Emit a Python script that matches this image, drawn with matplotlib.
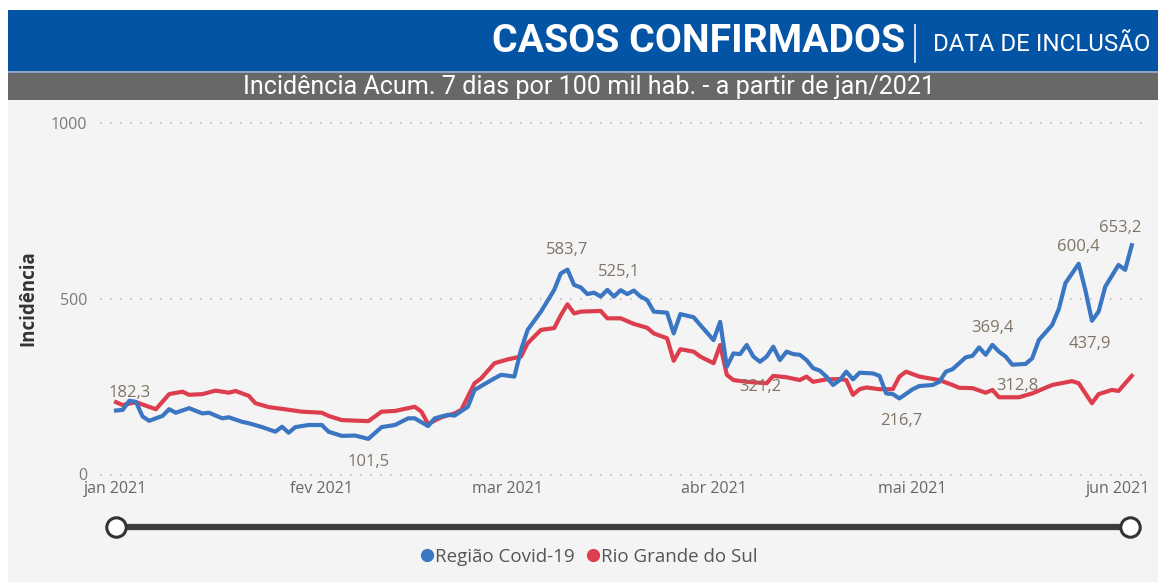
import numpy as np
import matplotlib
matplotlib.use("Agg")
import matplotlib.pyplot as plt
from matplotlib.patches import Rectangle
from matplotlib.lines import Line2D

# ---------------- data ----------------
start_date = "2021-01-01"
blue_days = [0, 1, 2, 3, 4, 5, 7, 8, 9, 11, 13, 14, 16, 17, 19, 20, 22, 24, 25, 26, 27, 29, 31, 32,
             34, 36, 38, 40, 42, 44, 45, 47, 48, 50, 51, 53, 54, 57, 58, 60, 61, 62, 64, 66, 67, 68,
             69, 70, 71, 72, 73, 74, 75, 76, 77, 78, 79, 80, 81, 83, 84, 85, 87, 88, 90, 91, 92, 93,
             94, 95, 96, 97, 98, 99, 100, 101, 102, 103, 104, 105, 106, 107, 108, 109, 110, 111, 112,
             114, 115, 116, 117, 118, 120, 121, 123, 124, 125, 126, 128, 129, 130, 131, 132, 133, 134,
             135, 137, 138, 139, 141, 142, 143, 145, 146, 147, 148, 149, 151, 152, 153]
blue_vals = [182.3, 184, 210, 207, 165, 153, 167, 186, 176, 189, 174, 176, 160, 163, 150, 146, 135, 122,
             136, 119, 135, 141, 141, 122, 110, 111, 101.5, 135, 141, 160, 160, 138, 160, 170, 168, 193,
             241, 274, 284, 279, 355, 412, 464, 526, 573, 583.7, 540, 533, 514, 518, 507, 526, 507,
             525.1, 514, 524, 507, 497, 464, 461, 402, 457, 448, 426, 383, 435, 307, 345, 343, 369,
             336, 321.2, 336, 364, 326, 350, 343, 341, 326, 303, 296, 279, 255, 269, 293, 271, 290,
             288, 281, 231, 229, 216.7, 243, 252, 255, 264, 293, 300, 334, 338, 362, 341, 369.4, 350,
             336, 312.8, 315, 331, 383, 426, 471, 545, 600.4, 526, 437.9, 464, 535, 597, 583, 653.2]

red_days = [0, 1, 3, 6, 8, 10, 11, 13, 15, 17, 18, 20, 21, 23, 25, 28, 30, 31, 32, 34, 38, 40, 42, 45,
            46, 47, 49, 51, 52, 54, 55, 57, 59, 61, 62, 64, 66, 67, 68, 69, 70, 73, 74, 76, 78, 80, 81,
            83, 84, 85, 87, 88, 90, 91, 92, 93, 95, 98, 99, 101, 103, 104, 105, 107, 109, 110, 111,
            112, 113, 115, 117, 118, 119, 121, 124, 126, 127, 129, 131, 132, 133, 136, 138, 141, 144,
            145, 147, 148, 150, 151, 153]
red_vals = [206, 198, 206, 186, 229, 236, 227, 229, 239, 233, 238, 224, 203, 192, 187, 179, 177, 176,
            167, 155, 152, 179, 181, 193, 179, 144, 163, 174, 184, 260, 274, 317, 328, 336, 374, 412,
            417, 454, 485, 459, 464, 466, 445, 445, 429, 418, 402, 388, 324, 357, 350, 336, 317, 369,
            284, 269, 264, 260, 281, 277, 269, 279, 264, 271, 272, 269, 227, 243, 248, 243, 243, 279,
            293, 279, 269, 255, 247, 246, 233, 241, 220, 220, 231, 255, 266, 260, 203, 229, 241, 238,
            281]

label_days = [0, 38, 68, 76, 97, 118, 132, 135, 145, 147, 153]
month_ticks = ["2021-01-01", "2021-02-01", "2021-03-01", "2021-04-01", "2021-05-01", "2021-06-01"]
month_labels = ["jan 2021", "fev 2021", "mar 2021", "abr 2021", "mai 2021", "jun 2021"]
y_ticks = [0, 500, 1000]
series_names = ["Região Covid-19", "Rio Grande do Sul"]

# ---------------- figure ----------------
W, H = 1158, 582
fig = plt.figure(figsize=(W / 100, H / 100), dpi=100)
fig.patch.set_facecolor("white")
BLUE = "#3a76c2"
RED = "#dc3e4d"
LBL = "#7f7466"
FONT = "Open Sans"


def fx(x):
    return x / W


def fy(y):
    return 1 - y / H


def rect(x0, y0, x1, y1, color):
    fig.patches.append(Rectangle((fx(x0), fy(y1)), (x1 - x0) / W, (y1 - y0) / H,
                                 transform=fig.transFigure, color=color, zorder=-5, lw=0))


rect(8, 100, 1158, 582, "#f4f4f4")
rect(8, 10, 1158, 71, "#0454a6")
rect(8, 71, 1158, 73, "#8aa4c6")
rect(8, 73, 1158, 100, "#686868")

renderer = fig.canvas.get_renderer()


def fit(t, target_w, vertical=False):
    bb = t.get_window_extent(renderer)
    cur = bb.height if vertical else bb.width
    t.set_fontsize(t.get_fontsize() * target_w / cur)
    return t


fit(fig.text(fx(905), fy(52), "CASOS CONFIRMADOS", ha="right", va="baseline", color="white",
             fontsize=24, fontweight="bold", family="Roboto"), 413)
fig.lines.append(Line2D([fx(915), fx(915)], [fy(25), fy(62)], transform=fig.transFigure,
                        color="#e6ecf4", lw=1.3))
fit(fig.text(fx(1150), fy(51), "DATA DE INCLUSÃO", ha="right", va="baseline", color="white",
             fontsize=14, family="Roboto"), 218)
fit(fig.text(fx(589), fy(94), "Incidência Acum. 7 dias por 100 mil hab. - a partir de jan/2021",
             ha="center", va="baseline", color="white", fontsize=14, family="Roboto"), 698)

# ---------------- axes ----------------
ax = fig.add_axes([fx(100), fy(474.5), 1047 / W, 351 / H])
ax.patch.set_alpha(0)
base = np.datetime64(start_date)
bx = base + np.array(blue_days).astype("timedelta64[D]")
rx = base + np.array(red_days).astype("timedelta64[D]")
ax.plot(rx, red_vals, color=RED, lw=3, solid_joinstyle="round", zorder=3)
ax.plot(bx, blue_vals, color=BLUE, lw=3, solid_joinstyle="round", zorder=4)

ax.set_xlim(base - np.timedelta64(58, "h"), base + np.timedelta64(int(155.3 * 24), "h"))
ax.set_ylim(0, 1000)
ax.set_yticks(y_ticks)
ax.set_yticklabels([str(v) for v in y_ticks])
ax.set_xticks([np.datetime64(d) for d in month_ticks])
ax.set_xticklabels(month_labels)
for s in ax.spines.values():
    s.set_visible(False)
ax.tick_params(axis="both", length=0)
ax.tick_params(axis="y", pad=9, labelsize=11.5, labelcolor="#7a7a7a")
ax.tick_params(axis="x", pad=5, labelsize=11.5, labelcolor="#666666")
for t in ax.get_xticklabels() + ax.get_yticklabels():
    t.set_family(FONT)
ax.yaxis.grid(True, color="#c6c6c6", lw=1.5, linestyle=(0, (0.8, 4)))
ax.xaxis.grid(False)
for gl in ax.get_ygridlines():
    gl.set_clip_on(False)

# data labels
offsets = {0: (14, 18), 38: (0, -23), 68: (0, 20), 76: (-2, 18), 97: (0, -25), 118: (2, -23),
           132: (0, 17), 135: (5, -21), 145: (0, 17), 147: (-2, -23), 153: (-12, 17)}
for d in label_days:
    v = blue_vals[blue_days.index(d)]
    ax.annotate(f"{v:.1f}".replace(".", ","), (base + np.timedelta64(d, "D"), v),
                xytext=offsets[d], textcoords="offset pixels", ha="center", va="center",
                color=LBL, fontsize=12, family=FONT, zorder=5)

fit(fig.text(fx(28), fy(298), "Incidência", rotation=90, ha="center", va="center",
             color="#333333", fontsize=13, fontweight="bold", family=FONT), 95, vertical=True)

# ---------------- slider ----------------
fig.lines.append(Line2D([fx(116), fx(1130)], [fy(527), fy(527)], transform=fig.transFigure,
                        color="#3c3c3c", lw=4.5, solid_capstyle="butt"))
fig.lines.append(Line2D([fx(116), fx(1130)], [fy(527), fy(527)], transform=fig.transFigure,
                        ls="none", marker="o", markersize=14, markerfacecolor="white",
                        markeredgecolor="#333333", markeredgewidth=2.2))

# ---------------- legend ----------------
handles = [Line2D([], [], ls="none", marker="o", markersize=8.5, color=c) for c in (BLUE, RED)]
leg = fig.legend(handles, series_names, loc="center", bbox_to_anchor=(fx(588), fy(557)),
                 ncol=2, frameon=False, handletextpad=0.0, columnspacing=0.5, handlelength=0.9,
                 prop={"family": FONT, "size": 13.5})
for t in leg.get_texts():
    t.set_color("#555555")

fig.savefig("out.png", dpi=100, facecolor=fig.get_facecolor())
